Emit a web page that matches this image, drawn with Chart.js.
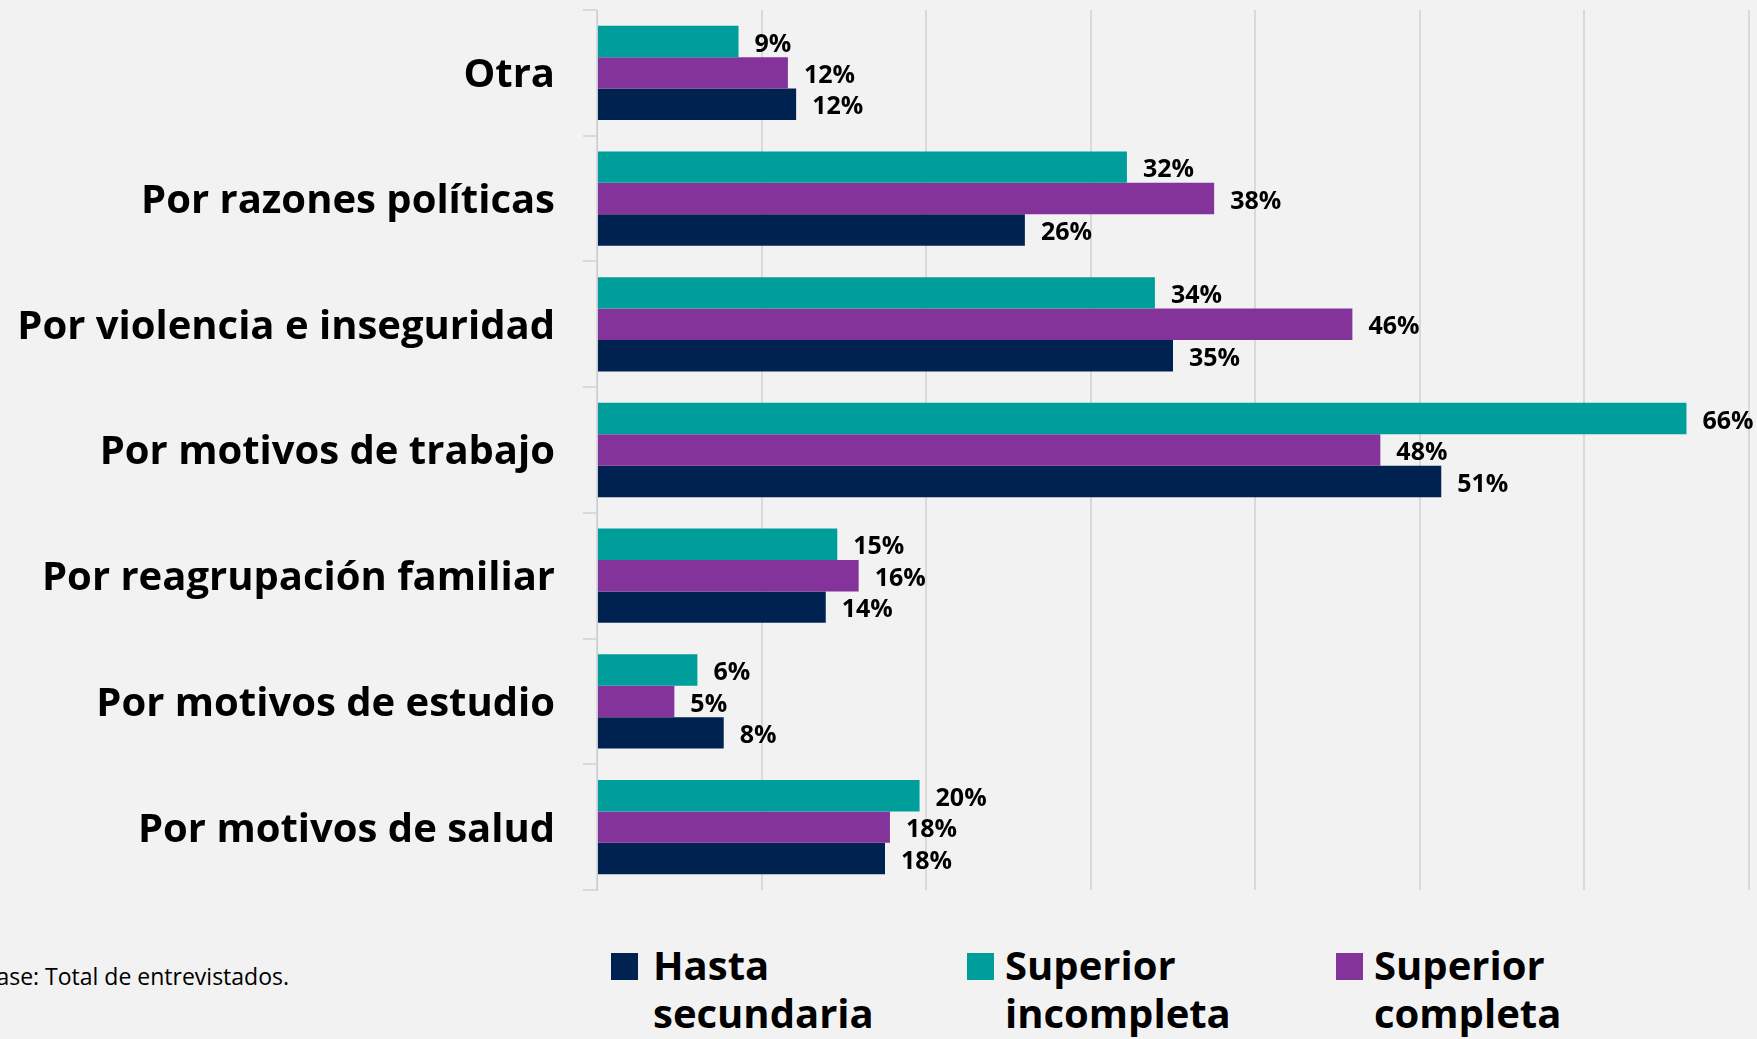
<!DOCTYPE html>
<html>
<head>
<meta charset="utf-8">
<script src="https://cdn.jsdelivr.net/npm/chart.js@4"></script>
<style>
  html, body { margin: 0; padding: 0; background: #f2f2f2; width: 1757px; height: 1039px; overflow: hidden; font-family: "Open Sans", sans-serif; }
  #wrap { position: absolute; left: 0; top: 0; width: 1757px; height: 892px; }
  #foot { position: absolute; right: calc(100% - 289px); top: 960px; font-size: 23px; color: #000; white-space: nowrap; line-height: 32px; }
  .lg { position: absolute; top: 939px; }
  .lg .box { position: absolute; left: 0; top: 14px; width: 27px; height: 27px; }
  .lg .txt { position: absolute; top: 2px; font-weight: 700; font-size: 40px; line-height: 48px; color: #000; white-space: nowrap; }
</style>
</head>
<body>
<div id="wrap"><canvas id="c" width="1757" height="892"></canvas></div>
<div id="foot">Base: Total de entrevistados.</div>
<div id="legend"></div>
<script>
const categories = ["Otra", "Por razones políticas", "Por violencia e inseguridad", "Por motivos de trabajo", "Por reagrupación familiar", "Por motivos de estudio", "Por motivos de salud"];
const superiorIncompleta = [8.6, 32.2, 33.9, 66.2, 14.6, 6.1, 19.6];
const superiorCompleta   = [11.6, 37.5, 45.9, 47.6, 15.9, 4.7, 17.8];
const hastaSecundaria    = [12.1, 26.0, 35.0, 51.3, 13.9, 7.7, 17.5];
const seriesNames = ["Superior incompleta", "Superior completa", "Hasta secundaria"];
const legendLines = [["Superior", "incompleta"], ["Superior", "completa"], ["Hasta", "secundaria"]];
const legendOrder = [2, 0, 1];
const xTicks = [0, 10, 20, 30, 40, 50, 60, 70];

const colors = ["#009e9b", "#833399", "#002251"];

const valueLabels = {
  id: 'valueLabels',
  afterDatasetsDraw(chart) {
    const ctx = chart.ctx;
    ctx.save();
    ctx.font = 'bold 25px "Open Sans"';
    ctx.fillStyle = '#000';
    ctx.textBaseline = 'middle';
    ctx.textAlign = 'left';
    chart.data.datasets.forEach((ds, i) => {
      chart.getDatasetMeta(i).data.forEach((bar, j) => {
        ctx.fillText(Math.round(ds.data[j]) + '%', bar.x + 16, bar.y + 3);
      });
    });
    ctx.restore();
  }
};

function draw() {
  const data = [superiorIncompleta, superiorCompleta, hastaSecundaria];
  new Chart(document.getElementById('c'), {
    type: 'bar',
    data: {
      labels: categories,
      datasets: data.map((d, i) => ({
        label: seriesNames[i],
        data: d,
        backgroundColor: colors[i],
        borderWidth: 0,
        categoryPercentage: 0.75,
        barPercentage: 1.0
      }))
    },
    options: {
      indexAxis: 'y',
      responsive: false,
      animation: false,
      devicePixelRatio: 1,
      layout: { padding: { left: 0, right: 8, top: 10, bottom: 2 } },
      plugins: { legend: { display: false }, tooltip: { enabled: false } },
      scales: {
        x: {
          min: 0, max: 70,
          afterBuildTicks: (s) => { s.ticks = xTicks.map(v => ({ value: v })); },
          ticks: { display: false },
          grid: { color: '#d9d9d9', lineWidth: 2, drawTicks: false },
          border: { display: false },
          afterFit: (s) => { s.height = 0; s.paddingLeft = 0; s.paddingRight = 0; }
        },
        y: {
          ticks: { color: '#000', font: { family: '"Open Sans"', weight: 'bold', size: 40 }, padding: 28, labelOffset: 3 },
          grid: { color: '#d9d9d9', lineWidth: 2, drawOnChartArea: false, tickLength: 14, offset: true },
          border: { display: true, color: '#c9ced6', width: 1 },
          afterFit: (s) => { s.width = 597; s.paddingTop = 0; s.paddingBottom = 0; }
        }
      }
    },
    plugins: [valueLabels]
  });

  const lg = document.getElementById('legend');
  const boxLefts = [611, 967, 1336];
  const txtOffsets = [42, 38, 38];
  legendOrder.forEach((idx, k) => {
    const item = document.createElement('div');
    item.className = 'lg';
    item.style.left = boxLefts[k] + 'px';
    const box = document.createElement('div');
    box.className = 'box';
    box.style.background = colors[idx];
    const txt = document.createElement('div');
    txt.className = 'txt';
    txt.style.left = txtOffsets[k] + 'px';
    txt.innerHTML = legendLines[idx].join('<br>');
    item.appendChild(box);
    item.appendChild(txt);
    lg.appendChild(item);
  });
}

Promise.all([
  document.fonts.load('bold 40px "Open Sans"'),
  document.fonts.load('bold 25px "Open Sans"'),
  document.fonts.load('23px "Open Sans"')
]).then(draw, draw);
</script>
</body>
</html>
